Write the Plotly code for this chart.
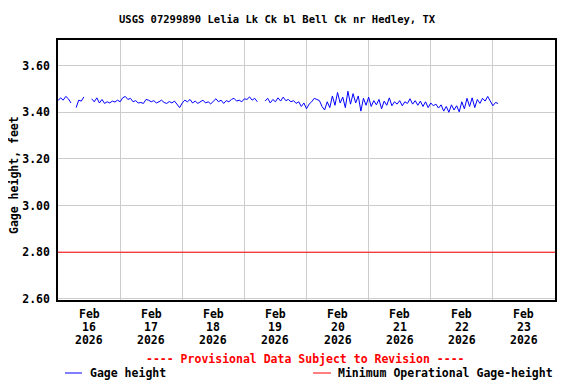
import pandas as pd
import plotly.graph_objects as go

TITLE = "USGS 07299890 Lelia Lk Ck bl Bell Ck nr Hedley, TX"
Y_TITLE = "Gage height, feet"
START = "2026-02-16 00:00"
END = "2026-02-24 00:00"
MIN_OP_GAGE = 2.80
Y_TICKS = [2.60, 2.80, 3.00, 3.20, 3.40, 3.60]
DAY_MONTHS = ["Feb", "Feb", "Feb", "Feb", "Feb", "Feb", "Feb", "Feb"]
DAY_NUMS = ["16", "17", "18", "19", "20", "21", "22", "23"]
DAY_YEARS = ["2026", "2026", "2026", "2026", "2026", "2026", "2026", "2026"]

# hourly gage height readings starting Feb 16 00:00 (None = missing)
gage_height = [
    3.450, 3.462, 3.452, 3.468, 3.458, 3.440, None, 3.420, 3.452, 3.448,
    3.466, None, None, 3.458, 3.445, 3.462, 3.440, 3.455, 3.438, 3.445,
    3.440, 3.448, 3.444, 3.452, 3.445, 3.462, 3.468, 3.455, 3.460, 3.445,
    3.450, 3.440, 3.442, 3.438, 3.455, 3.452, 3.445, 3.450, 3.440, 3.445,
    3.452, 3.442, 3.438, 3.446, 3.440, 3.448, 3.436, 3.420, 3.440, 3.452,
    3.445, 3.455, 3.440, 3.448, 3.438, 3.446, 3.452, 3.440, 3.445, 3.436,
    3.448, 3.458, 3.445, 3.452, 3.438, 3.450, 3.445, 3.455, 3.460, 3.448,
    3.452, 3.445, 3.458, 3.455, 3.466, 3.452, 3.460, 3.445, None, None,
    3.448, 3.460, 3.440, 3.455, 3.445, 3.462, 3.448, 3.465, 3.450, 3.455,
    3.445, 3.450, 3.438, 3.445, 3.425, 3.440, 3.415, 3.435, 3.445, 3.460,
    3.455, 3.450, 3.425, 3.410, 3.445, 3.420, 3.470, 3.430, 3.485, 3.440,
    3.465, 3.420, 3.490, 3.435, 3.480, 3.440, 3.470, 3.405, 3.460, 3.430,
    3.465, 3.425, 3.450, 3.432, 3.455, 3.415, 3.448, 3.430, 3.462, 3.428,
    3.445, 3.435, 3.450, 3.428, 3.445, 3.438, 3.458, 3.435, 3.450, 3.430,
    3.448, 3.425, 3.445, 3.420, 3.440, 3.428, 3.435, 3.418, 3.432, 3.405,
    3.425, 3.400, 3.432, 3.410, 3.428, 3.402, 3.445, 3.415, 3.460, 3.425,
    3.462, 3.420, 3.455, 3.438, 3.460, 3.448, 3.468, 3.445, 3.428, 3.442,
    3.438,
]

times = pd.date_range(START, periods=len(gage_height), freq="h")
day_noons = pd.date_range("2026-02-16 12:00", periods=len(DAY_NUMS), freq="D")

FONT = "DejaVu Sans Mono"
OFF = 8  # page body margin
W, H = 576 - OFF, 384 - OFF
# plot area in window pixels: x 58..555, y 40..300
L, R, T, B = 58 - OFF, 576 - 555, 40 - OFF, 384 - 300
PW = W - L - R
PH = H - T - B


def px_x(p):
    return (p - OFF - L) / PW


def px_y(p):
    return 1 - (p - OFF - T) / PH


fig = go.Figure()
fig.add_trace(go.Scatter(x=[START, END], y=[MIN_OP_GAGE, MIN_OP_GAGE], mode="lines",
                         line=dict(color="#ff0000", width=1), showlegend=False, hoverinfo="skip"))
fig.add_trace(go.Scatter(x=times, y=gage_height, mode="lines", connectgaps=False,
                         line=dict(color="#0000ff", width=1), showlegend=False))

txt = dict(family=FONT, size=11.5, color="black")
annotations = [
    dict(text="<b>" + TITLE + "</b>", xref="paper", yref="paper", x=px_x(277), y=px_y(19),
         showarrow=False, font=dict(family=FONT, size=10.5, color="black"), xanchor="center", yanchor="middle"),
    dict(text="<b>" + Y_TITLE + "</b>", xref="paper", yref="paper", x=px_x(14), y=px_y(175),
         showarrow=False, textangle=-90, font=txt, xanchor="center", yanchor="middle"),
    dict(text="<b>---- Provisional Data Subject to Revision ----</b>", xref="paper", yref="paper",
         x=px_x(305.5), y=px_y(359), showarrow=False,
         font=dict(family=FONT, size=11.5, color="#ff0000"), xanchor="center", yanchor="middle"),
    dict(text="<b>Gage height</b>", xref="paper", yref="paper", x=px_x(88), y=px_y(373),
         showarrow=False, font=txt, xanchor="left", yanchor="middle"),
    dict(text="<b>Minimum Operational Gage-height</b>", xref="paper", yref="paper", x=px_x(336),
         y=px_y(373), showarrow=False, font=txt, xanchor="left", yanchor="middle"),
]
for row_texts, row_y in ((DAY_MONTHS, 314), (DAY_NUMS, 327), (DAY_YEARS, 340)):
    for d, t in zip(day_noons, row_texts):
        annotations.append(dict(text="<b>" + t + "</b>", xref="x", yref="paper", x=d, y=px_y(row_y),
                                showarrow=False, font=txt, xanchor="center", yanchor="middle"))

shapes = [
    dict(type="line", xref="paper", yref="paper", x0=px_x(65), x1=px_x(82), y0=px_y(373), y1=px_y(373),
         line=dict(color="#0000ff", width=1)),
    dict(type="line", xref="paper", yref="paper", x0=px_x(313), x1=px_x(331), y0=px_y(373), y1=px_y(373),
         line=dict(color="#ff0000", width=1)),
]

fig.update_layout(
    width=W, height=H, margin=dict(l=L, r=R, t=T, b=B, pad=0),
    paper_bgcolor="white", plot_bgcolor="white",
    showlegend=False, annotations=annotations, shapes=shapes,
    font=txt,
)
fig.update_xaxes(
    range=[START, END], tickmode="array", tickvals=day_noons, showticklabels=False,
    showgrid=False, ticks="", showline=True, linecolor="black", linewidth=1.5, mirror=True,
    zeroline=False,
    minor=dict(tick0=START, dtick=86400000, showgrid=True, gridcolor="#cccccc", gridwidth=1, ticks=""),
)
fig.update_yaxes(
    range=[2.595, 3.71], tickmode="array", tickvals=Y_TICKS,
    ticktext=["<b>%.2f</b>" % v for v in Y_TICKS],
    showgrid=True, gridcolor="#cccccc", gridwidth=1, ticks="", ticklabelstandoff=4,
    showline=True, linecolor="black", linewidth=1.5, mirror=True, zeroline=False,
    tickfont=txt,
)

fig.write_html("out.html")
